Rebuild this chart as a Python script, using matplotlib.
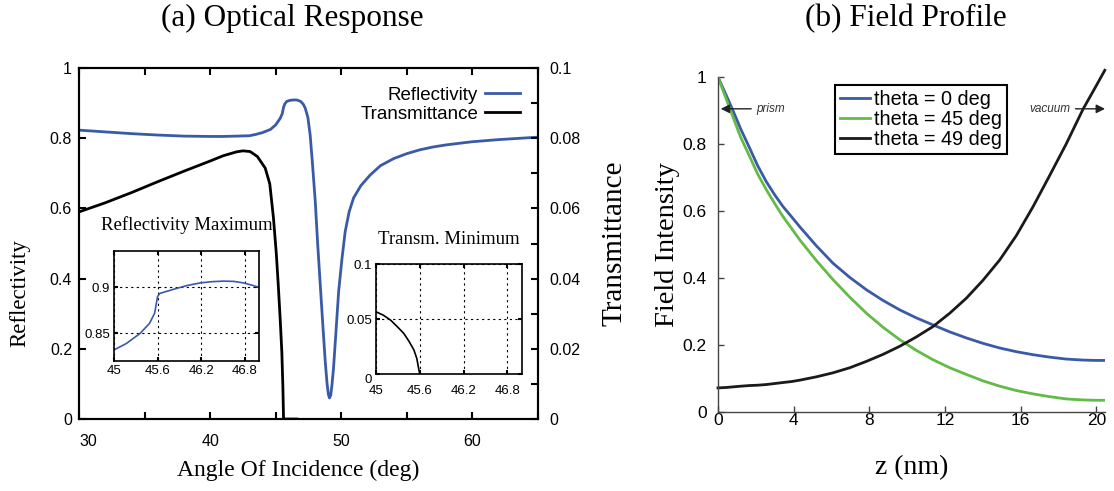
import matplotlib
matplotlib.use("Agg")
import matplotlib.pyplot as plt
from matplotlib.ticker import MultipleLocator

# (a) main curves
angle_r = [30, 32, 34, 36, 38, 40, 41, 42, 43, 43.5, 44, 44.6, 45.0, 45.35, 45.5,
           45.6, 45.7, 45.85, 46.1, 46.4, 46.6, 46.9, 47.1, 47.25, 47.45, 47.63, 47.8,
           48.02, 48.2, 48.4, 48.6, 48.78, 48.92, 49.02, 49.1, 49.2, 49.3, 49.41,
           49.6, 49.8, 50.05, 50.3, 50.6, 50.94, 51.5, 52.2, 53, 54, 55, 56, 57, 58,
           60, 62, 65]
reflectivity = [0.823, 0.818, 0.813, 0.809, 0.806, 0.805, 0.805, 0.806, 0.807, 0.811,
                0.816, 0.825, 0.838, 0.857, 0.870, 0.888, 0.898, 0.905, 0.908, 0.909,
                0.909, 0.905, 0.897, 0.886, 0.860, 0.809, 0.730, 0.619, 0.500, 0.382,
                0.265, 0.163, 0.100, 0.070, 0.060, 0.068, 0.100, 0.145, 0.250, 0.363,
                0.455, 0.534, 0.590, 0.630, 0.665, 0.695, 0.722, 0.742, 0.756, 0.767,
                0.775, 0.781, 0.790, 0.796, 0.803]

angle_t = [30, 32, 34, 36, 38, 40, 41, 42, 42.5, 43.05, 43.6, 44.2, 44.55, 44.83,
           45.05, 45.2, 45.35, 45.47, 45.55, 45.6, 46.6]
transmittance = [0.0590, 0.0616, 0.0645, 0.0676, 0.0706, 0.0735, 0.0750, 0.0761,
                 0.0764, 0.0762, 0.0748, 0.0715, 0.0670, 0.0573, 0.0470, 0.0380,
                 0.0280, 0.0190, 0.0090, 0.0, 0.0]

# (a) insets
inset_r_angle = [45.0, 45.17, 45.36, 45.49, 45.56, 45.6, 45.63, 45.82, 46.0, 46.19,
                 46.35, 46.51, 46.65, 46.78, 46.9, 47.0]
inset_r = [0.832, 0.839, 0.850, 0.861, 0.872, 0.890, 0.8935, 0.898, 0.902, 0.905,
           0.9063, 0.9069, 0.9066, 0.905, 0.9025, 0.900]
inset_t_angle = [45.0, 45.1, 45.2, 45.3, 45.38, 45.45, 45.52, 45.56, 45.58, 45.6]
inset_t = [0.0566, 0.0535, 0.049, 0.0425, 0.037, 0.030, 0.0218, 0.014, 0.0066, 0.0]

# (b) field profile
z_nm = [0, 0.4, 0.79, 1.2, 1.68, 2.1, 2.56, 3.0, 3.44, 3.9, 4.32, 5.2, 6.08, 6.96,
        7.84, 8.72, 9.6, 10.48, 11.36, 12.25, 13.13, 14.0, 14.89, 15.77, 16.65, 17.5,
        18.4, 19.3, 19.9, 20.44]
field_0 = [1.0, 0.95, 0.90, 0.845, 0.787, 0.735, 0.687, 0.648, 0.613, 0.582, 0.553,
           0.496, 0.444, 0.402, 0.365, 0.333, 0.305, 0.281, 0.260, 0.239, 0.221,
           0.205, 0.191, 0.180, 0.171, 0.164, 0.158, 0.155, 0.154, 0.154]
field_45 = [1.0, 0.94, 0.881, 0.82, 0.762, 0.71, 0.663, 0.622, 0.583, 0.547, 0.514,
            0.452, 0.395, 0.343, 0.295, 0.253, 0.216, 0.184, 0.156, 0.132, 0.112,
            0.093, 0.077, 0.064, 0.054, 0.046, 0.039, 0.036, 0.035, 0.035]
field_49 = [0.072, 0.073, 0.075, 0.077, 0.079, 0.080, 0.082, 0.085, 0.088, 0.091,
            0.095, 0.105, 0.117, 0.132, 0.151, 0.172, 0.196, 0.224, 0.255, 0.295,
            0.340, 0.393, 0.454, 0.527, 0.613, 0.703, 0.800, 0.905, 0.965, 1.02]

BLUE = "#3a5aa8"
GREEN = "#62bb47"
SANS = "Liberation Sans"
SERIF = "Liberation Serif"

plt.rcParams["font.family"] = SANS
plt.rcParams["axes.linewidth"] = 1.5

fig = plt.figure(figsize=(11.14, 4.91), dpi=100)

# ---- (a) optical response ----
ax = fig.add_axes([0.0709, 0.1466, 0.412, 0.7149])
ax.plot(angle_r, reflectivity, color=BLUE, lw=2.0, label="Reflectivity")
ax.set_xlim(30, 65)
ax.set_ylim(0, 1)
ax.set_xticks([30, 40, 50, 60], labels=["30", "40", "50", "60"])
ax.xaxis.set_minor_locator(MultipleLocator(5))
ax.set_yticks([0, 0.2, 0.4, 0.6, 0.8, 1], labels=["0", "0.2", "0.4", "0.6", "0.8", "1"])
ax.tick_params(which="both", direction="in", top=True, length=5, width=1.5,
               labelsize=11.5)
ax.tick_params(axis="x", which="major", pad=11)
ax.tick_params(axis="y", which="major", pad=5)
ax.xaxis.get_major_ticks()[0].label1.set_horizontalalignment("left")
ax.set_xlabel("Angle Of Incidence (deg)", family=SERIF, fontsize=17)
ax.xaxis.set_label_coords(0.477, -0.115)
ax.set_ylabel("Reflectivity", family=SERIF, fontsize=16.5)
ax.yaxis.set_label_coords(-0.105, 0.36)

ax2 = ax.twinx()
ax2.plot(angle_t, transmittance, color="black", lw=2.0, label="Transmittance")
ax2.set_ylim(0, 0.1)
ax2.set_yticks([0, 0.02, 0.04, 0.06, 0.08, 0.1],
               labels=["0", "0.02", "0.04", "0.06", "0.08", "0.1"])
ax2.yaxis.set_minor_locator(MultipleLocator(0.01))
ax2.tick_params(which="both", direction="in", length=5, width=1.5, labelsize=11.5,
                pad=8)
ax2.set_ylabel("Transmittance", family=SERIF, fontsize=21)
ax2.yaxis.set_label_coords(1.138, 0.5)

h1, l1 = ax.get_legend_handles_labels()
h2, l2 = ax2.get_legend_handles_labels()
ax2.legend(h1 + h2, l1 + l2, loc="upper right", bbox_to_anchor=(0.99, 0.985),
           frameon=False, markerfirst=False, fontsize=13.5, handlelength=1.9,
           handletextpad=0.35, labelspacing=0.1, borderpad=0.2)

# insets
def style_inset(a):
    a.tick_params(which="both", direction="in", top=True, right=True, length=3,
                  width=1.5, labelsize=9.5, pad=3)
    a.grid(True, color="black", linestyle=(0, (2, 3)), linewidth=0.8)
    for s in a.spines.values():
        s.set_linewidth(1.2)

ins1 = fig.add_axes([0.1023, 0.2648, 0.1304, 0.2246])
ins1.plot(inset_r_angle, inset_r, color=BLUE, lw=1.2)
ins1.set_xlim(45, 47)
ins1.set_ylim(0.82, 0.94)
ins1.set_xticks([45, 45.6, 46.2, 46.8], labels=["45", "45.6", "46.2", "46.8"])
ins1.set_yticks([0.85, 0.9], labels=["0.85", "0.9"])
style_inset(ins1)
ins1.text(0.5, 1.23, "Reflectivity Maximum", transform=ins1.transAxes,
          ha="center", va="center", family=SERIF, fontsize=13.5)

ins2 = fig.add_axes([0.3375, 0.2383, 0.131, 0.224])
ins2.plot(inset_t_angle, inset_t, color="black", lw=1.2)
ins2.set_xlim(45, 47)
ins2.set_ylim(0, 0.1)
ins2.set_xticks([45, 45.6, 46.2, 46.8], labels=["45", "45.6", "46.2", "46.8"])
ins2.set_yticks([0, 0.05, 0.1], labels=["0", "0.05", "0.1"])
style_inset(ins2)
ins2.tick_params(axis="x", pad=8)
ins2.yaxis.get_major_ticks()[0].label1.set_verticalalignment("top")
ins2.text(0.5, 1.22, "Transm. Minimum", transform=ins2.transAxes,
          ha="center", va="center", family=SERIF, fontsize=13.5)

# ---- (b) field profile ----
bx = fig.add_axes([0.6445, 0.1609, 0.3474, 0.6823])
bx.plot(z_nm, field_0, color=BLUE, lw=2.0, label="theta = 0 deg")
bx.plot(z_nm, field_45, color=GREEN, lw=2.0, label="theta = 45 deg")
bx.plot(z_nm, field_49, color="#1a1a1a", lw=2.0, label="theta = 49 deg",
        clip_on=False)
bx.set_xlim(0, 20.45)
bx.set_ylim(0, 1)
bx.set_xticks([0, 4, 8, 12, 16, 20])
bx.set_yticks([0, 0.2, 0.4, 0.6, 0.8, 1], labels=["0", "0.2", "0.4", "0.6", "0.8", "1"])
for side in ("top", "right"):
    bx.spines[side].set_visible(False)
for side in ("left", "bottom"):
    bx.spines[side].set_linewidth(1.0)
    bx.spines[side].set_color("#444444")
bx.tick_params(direction="in", length=4, width=1.0, color="#444444", labelsize=12.5)
bx.tick_params(axis="x", pad=1)
bx.tick_params(axis="y", pad=8)
bx.set_xlabel("z (nm)", family=SERIF, fontsize=20)
bx.xaxis.set_label_coords(0.5, -0.13)
bx.set_ylabel("Field Intensity", family=SERIF, fontsize=20.5)
bx.yaxis.set_label_coords(-0.098, 0.5)
leg = bx.legend(loc="upper left", bbox_to_anchor=(0.302, 0.976), fontsize=14.3,
                handlelength=1.5, handletextpad=0.2, labelspacing=0.05,
                borderpad=0.25, borderaxespad=0, fancybox=False, framealpha=1)
leg.get_frame().set_edgecolor("black")
leg.get_frame().set_linewidth(1.5)

arrow = dict(arrowstyle="-|>", color="#222222", lw=1.0, mutation_scale=13)
bx.annotate("prism", xy=(0, 0.905), xytext=(2.05, 0.905), ha="left", va="center",
            fontsize=8.5, style="italic", color="#333333", arrowprops=arrow)
bx.annotate("vacuum", xy=(20.6, 0.905), xytext=(18.6, 0.905), ha="right",
            va="center", fontsize=8.5, style="italic", color="#333333",
            arrowprops=arrow, annotation_clip=False)

fig.text(0.262, 0.963, "(a) Optical Response", family=SERIF, fontsize=22.5,
         ha="center", va="center")
fig.text(0.813, 0.963, "(b) Field Profile", family=SERIF, fontsize=22.5,
         ha="center", va="center")

fig.savefig("out.png", dpi=100)
